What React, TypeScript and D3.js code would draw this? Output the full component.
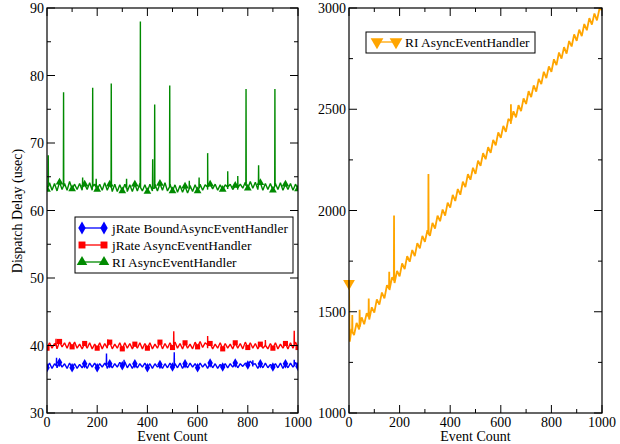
import React from 'react';
import * as d3 from 'd3';

// samples every 10 events (0..1000)
const jrateBound = [36.7,37.4,36.6,37.3,36.7,37.5,36.8,37.3,36.6,37.4,
  36.7,37.3,36.6,37.2,36.7,37.3,36.6,37.4,36.8,37.4,
  36.7,37.3,36.8,37.4,36.6,37.3,36.7,37.3,36.8,37.5,
  37.0,37.6,36.7,37.3,36.6,37.3,36.7,37.3,36.8,37.4,
  36.7,37.3,36.6,37.3,36.8,37.2,36.6,37.3,36.7,37.4,
  36.8,37.3,36.7,37.4,36.6,37.3,36.7,37.4,36.8,37.3,
  36.7,37.4,36.8,37.3,36.6,37.4,36.7,37.3,36.6,37.2,
  36.8,37.3,36.7,37.3,36.8,37.4,36.7,37.3,36.9,37.4,
  37.1,37.7,36.9,37.3,36.6,37.3,36.7,37.4,36.7,37.2,
  36.8,37.3,36.7,37.4,36.6,37.3,36.7,37.4,36.8,37.5,36.9];
// [event, peak, base]
const jrateBoundSpikes = [[38,38.2,37.0],[237,38.8,37.0],[307,37.9,37.1],[507,39.0,37.0],[820,37.8,37.2],[985,37.9,37.0]];

const jrateAsync = [39.6,40.4,39.6,40.3,39.5,40.6,39.8,40.4,39.6,40.5,
  39.8,40.5,39.6,40.2,39.5,40.3,39.6,40.4,39.5,40.2,
  39.6,40.4,39.5,40.3,39.6,40.5,39.5,40.2,39.6,40.4,
  39.5,40.4,39.6,40.3,39.5,40.2,39.6,40.4,39.5,40.3,
  39.6,40.4,39.5,40.2,39.6,40.5,39.5,40.3,39.6,40.4,
  39.7,40.5,39.6,40.3,39.5,40.4,39.6,40.2,39.5,40.5,
  39.8,40.6,39.7,40.4,39.6,40.3,39.5,40.2,39.6,40.4,
  39.5,40.3,39.6,40.2,39.5,40.4,39.6,40.3,39.5,40.5,
  39.7,40.4,39.6,40.3,39.5,40.2,39.6,40.4,39.5,40.3,
  39.6,40.4,39.5,40.2,39.6,40.3,39.5,40.4,39.6,40.5,39.7];
const jrateAsyncSpikes = [[36,41.0,40.0],[242,40.9,40.0],[505,42.1,40.0],[640,41.4,40.1],[870,40.8,40.0],[985,42.2,40.0]];

const riAsync = [63.1,64.1,63.0,64.0,62.9,64.2,63.1,64.0,63.0,64.3,
  63.2,63.9,63.1,64.0,63.0,63.9,63.1,64.1,63.0,63.9,
  63.1,63.9,63.0,64.1,63.0,63.9,62.8,63.9,62.8,63.8,
  62.9,63.9,62.8,63.8,62.8,63.9,62.9,64.0,62.9,63.8,
  62.8,63.9,62.9,63.9,62.9,64.0,63.0,64.1,62.9,63.9,
  62.9,63.8,62.7,63.7,62.7,63.6,62.6,63.7,62.8,63.8,
  62.9,63.9,63.0,63.8,63.1,63.9,63.2,63.9,63.0,63.8,
  63.1,63.8,63.2,63.9,63.1,63.7,63.1,63.9,63.3,64.2,
  63.3,64.3,63.3,64.2,63.1,64.1,63.0,64.0,63.1,64.0,
  63.0,64.0,63.1,64.1,63.0,63.9,63.1,64.0,63.0,63.9,63.2];
const riAsyncSpikes = [[5,68.2,63.5],[66,77.5,63.6],[142,64.9,63.5],[182,78.2,63.6],[196,64.7,63.4],
  [256,78.8,63.4],[317,64.7,63.3],[372,88,63.4],[421,67.6,63.3],[429,75.7,63.3],[489,78.5,63.5],
  [567,64.4,63.2],[606,64.9,63.3],[640,68.5,63.5],[720,65.8,63.5],[760,65.1,63.4],[793,78,63.7],
  [843,66.7,63.8],[908,78,63.6]];

const riLarge = [1640,1415,1385,1445,1413,1472,1438,1493,1462,1522,
  1496,1561,1535,1595,1566,1631,1607,1670,1642,1702,
  1675,1739,1711,1775,1747,1805,1775,1839,1813,1875,
  1845,1903,1875,1939,1911,1975,1947,2005,1975,2039,
  2014,2077,2047,2106,2078,2142,2116,2180,2152,2211,
  2181,2246,2221,2283,2253,2313,2285,2349,2322,2386,
  2359,2418,2388,2452,2428,2490,2460,2520,2491,2554,
  2526,2589,2560,2618,2587,2650,2624,2685,2654,2712,
  2685,2747,2718,2780,2750,2807,2775,2837,2810,2870,
  2838,2893,2861,2921,2890,2950,2918,2973,2939,2997,2990];
const riLargeSpikes = [[3,1352,1360],[13,1484,1400],[42,1510,1425],[78,1565,1475],[159,1697,1615],
  [178,1975,1655],[314,2180,1885],[640,2525,2440]];

const leftYTicks = [30, 40, 50, 60, 70, 80, 90];
const rightYTicks = [1000, 1500, 2000, 2500, 3000];
const xTicks = [0, 200, 400, 600, 800, 1000];

const FONT = '"Liberation Serif", "Times New Roman", serif';

const buildSeries = (base: number[], spikes: number[][]) => {
  const pts = base.map((v, i) => [i * 10, v]);
  spikes.forEach(([e, peak, b]) => {
    pts.push([e - 0.8, b], [e, peak], [e + 0.8, b]);
  });
  return pts.sort((a, b) => a[0] - b[0]);
};

const markerPts = (base: number[], every: number) =>
  base.map((v, i) => [i * 10, v]).filter((d, i) => i % every === 0);

const Marker = ({ type, x, y, color, size }: any) => {
  const sym = type === 'diamond' ? d3.symbolDiamond : type === 'square' ? d3.symbolSquare : d3.symbolTriangle;
  const rot = type === 'down' ? 180 : 0;
  const path = d3.symbol().type(sym).size(size)();
  return <path d={path as string} transform={`translate(${x},${y}) rotate(${rot})`} fill={color} />;
};

const Frame = ({ x, y, minorY, yFmt }: any) => {
  const [x0, x1] = x.range();
  const [y0, y1] = y.range();
  const xMin = d3.range(0, 1001, 100);
  const yDom = y.domain();
  const yMin = d3.range(yDom[0], yDom[1] + 0.001, minorY);
  return (
    <g>
      {xMin.map((t) => {
        const L = t % 200 === 0 ? 8 : 4;
        return (
          <g key={'x' + t}>
            <line x1={x(t)} x2={x(t)} y1={y0} y2={y0 - L} stroke="#000" />
            <line x1={x(t)} x2={x(t)} y1={y1} y2={y1 + L} stroke="#000" />
          </g>
        );
      })}
      {yMin.map((t) => {
        const L = yFmt.includes(t) ? 8 : 4;
        return (
          <g key={'y' + t}>
            <line x1={x0} x2={x0 + L} y1={y(t)} y2={y(t)} stroke="#000" />
            <line x1={x1} x2={x1 - L} y1={y(t)} y2={y(t)} stroke="#000" />
          </g>
        );
      })}
      <rect x={x0} y={y1} width={x1 - x0} height={y0 - y1} fill="none" stroke="#000" strokeWidth={1.2} />
      {xTicks.map((t) => (
        <text key={'xl' + t} x={x(t)} y={427} textAnchor="middle" fontSize={14} fontFamily={FONT}>{t}</text>
      ))}
      {yFmt.map((t: number) => (
        <text key={'yl' + t} x={x0 - 3} y={y(t) + 5} textAnchor="end" fontSize={14} fontFamily={FONT}>{t}</text>
      ))}
      <text x={(x0 + x1) / 2} y={441} textAnchor="middle" fontSize={14} fontFamily={FONT}>Event Count</text>
    </g>
  );
};

const App = () => {
  const xL = d3.scaleLinear().domain([0, 1000]).range([47, 298]);
  const yL = d3.scaleLinear().domain([30, 90]).range([413, 8]);
  const xR = d3.scaleLinear().domain([0, 1000]).range([349, 602]);
  const yR = d3.scaleLinear().domain([1000, 3000]).range([413, 8]);

  const lineL = d3.line<number[]>().x((d) => xL(d[0])).y((d) => yL(d[1]));
  const lineR = d3.line<number[]>().x((d) => xR(d[0])).y((d) => yR(d[1]));

  const leftSeries = [
    { name: 'jRate BoundAsyncEventHandler', base: jrateBound, spikes: jrateBoundSpikes, color: '#0000ff', mk: 'diamond', size: 26 },
    { name: 'jRate AsyncEventHandler', base: jrateAsync, spikes: jrateAsyncSpikes, color: '#ff0000', mk: 'square', size: 26 },
    { name: 'RI AsyncEventHandler', base: riAsync, spikes: riAsyncSpikes, color: '#008a00', mk: 'triangle', size: 26 },
  ];

  return (
    <svg width={620} height={444} style={{ position: 'absolute', left: 0, top: 0, background: '#fff' }}>
      <defs>
        <clipPath id="clipL"><rect x={47} y={8} width={251} height={405} /></clipPath>
        <clipPath id="clipR"><rect x={349} y={8} width={253} height={405} /></clipPath>
      </defs>
      <rect width={620} height={444} fill="#fff" />

      <g clipPath="url(#clipL)">
        {leftSeries.map((s) => (
          <g key={s.name}>
            <path d={lineL(buildSeries(s.base, s.spikes)) as string} fill="none" stroke={s.color} strokeWidth={1.4} strokeLinejoin="bevel" />
            {markerPts(s.base, 5).map((p) => (
              <Marker key={p[0]} type={s.mk} x={xL(p[0])} y={yL(p[1])} color={s.color} size={s.size} />
            ))}
          </g>
        ))}
      </g>
      <g>
        <path d={lineR(buildSeries(riLarge, riLargeSpikes)) as string} fill="none" stroke="#ffa500" strokeWidth={1.8} strokeLinejoin="bevel" clipPath="url(#clipR)" />
        {markerPts(riLarge, 1000).map((p) => (
          <Marker key={p[0]} type="down" x={xR(p[0])} y={yR(p[1])} color="#ffa500" size={60} />
        ))}
      </g>

      <Frame x={xL} y={yL} minorY={5} yFmt={leftYTicks} />
      <Frame x={xR} y={yR} minorY={250} yFmt={rightYTicks} />

      <text transform="translate(22,211) rotate(-90)" textAnchor="middle" fontSize={14} fontFamily={FONT}>Dispatch Delay (usec)</text>

      <g>
        <rect x={75} y={217} width={218} height={56} fill="#fff" stroke="#000" />
        {leftSeries.map((s, i) => {
          const cy = 228 + i * 17;
          return (
            <g key={'lg' + s.name}>
              <line x1={82} x2={104} y1={cy} y2={cy} stroke={s.color} strokeWidth={1.3} />
              <Marker type={s.mk} x={82} y={cy} color={s.color} size={48} />
              <Marker type={s.mk} x={104} y={cy} color={s.color} size={48} />
              <text x={112} y={cy + 4.5} fontSize={13.4} fontFamily={FONT}>{s.name}</text>
            </g>
          );
        })}
      </g>
      <g>
        <rect x={366} y={32} width={169} height={21} fill="#fff" stroke="#000" />
        <line x1={377} x2={396} y1={42} y2={42} stroke="#ffa500" strokeWidth={1.3} />
        <Marker type="down" x={377} y={42} color="#ffa500" size={70} />
        <Marker type="down" x={396} y={42} color="#ffa500" size={70} />
        <text x={405} y={46.5} fontSize={13.4} fontFamily={FONT}>RI AsyncEventHandler</text>
      </g>
    </svg>
  );
};

export default App;
